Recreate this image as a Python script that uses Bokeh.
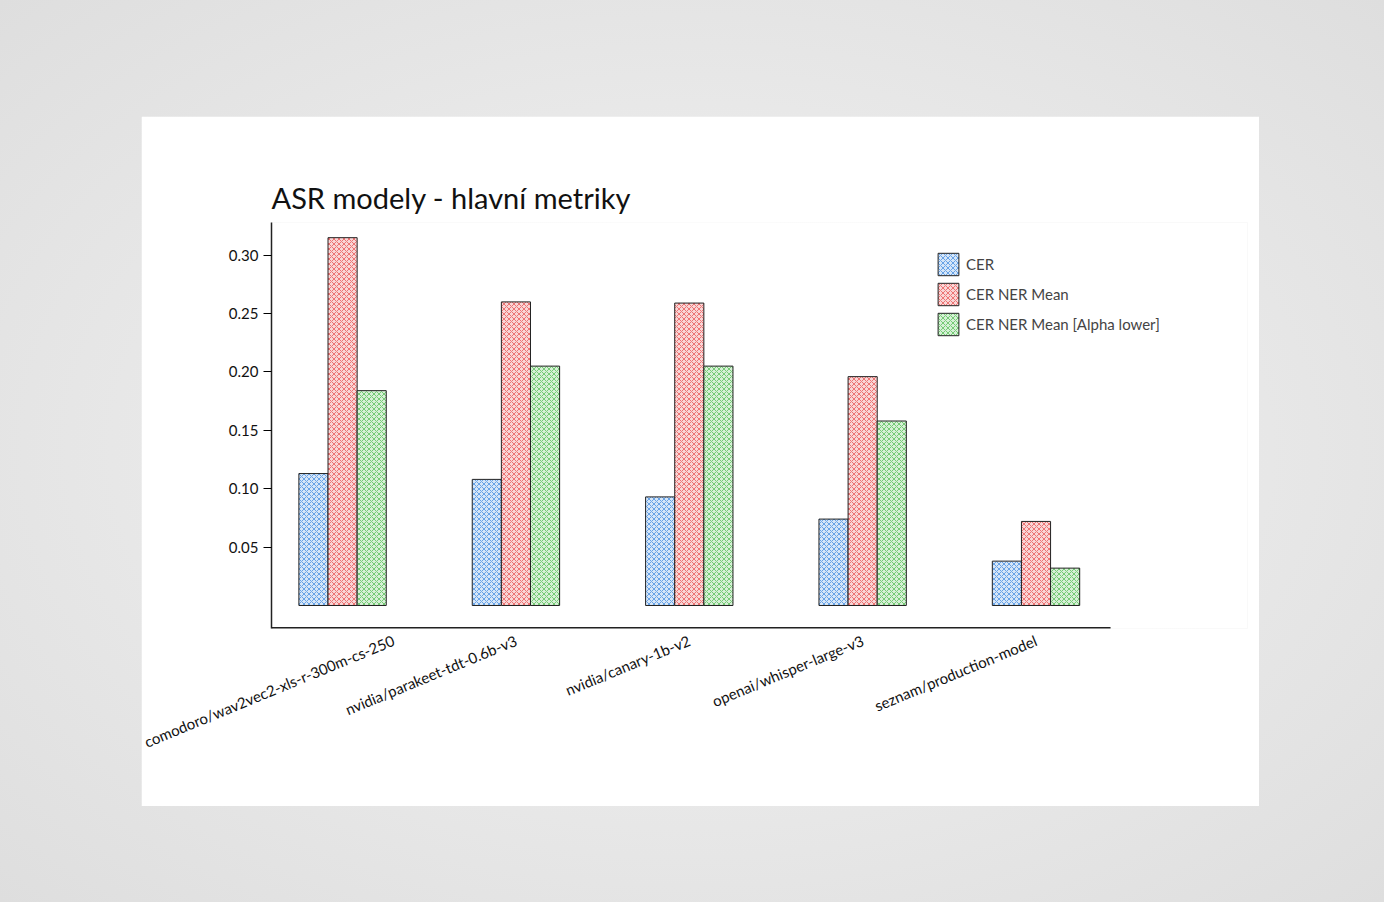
from bokeh.plotting import figure
from bokeh.models import ColumnDataSource, Legend, LegendItem, FixedTicker, Column
from bokeh.embed import file_html
from bokeh.resources import INLINE
import math

models = ["comodoro/wav2vec2-xls-r-300m-cs-250", "nvidia/parakeet-tdt-0.6b-v3",
          "nvidia/canary-1b-v2", "openai/whisper-large-v3", "seznam/production-model"]
cer = [0.113, 0.108, 0.093, 0.074, 0.038]
cer_ner = [0.315, 0.260, 0.259, 0.196, 0.072]
cer_ner_alpha = [0.184, 0.205, 0.205, 0.158, 0.032]
series_names = ["CER", "CER NER Mean", "CER NER Mean [Alpha lower]"]
colors = ["#4a90e2", "#e85a5a", "#5cc05c"]
fills = ["#d6e6f8", "#f9d6d6", "#d6f0d6"]

FONT = "Lato"
X0, X1 = -0.41, 4.43   # extent of the drawn x axis
Y0 = -0.0197

# frame is widened to the right so that the legend fits inside it
p = figure(width=1118, height=690, output_backend="svg", toolbar_location=None,
           x_range=(X0, 5.22), y_range=(Y0, 0.328),
           min_border_left=130, min_border_right=12, min_border_top=106,
           min_border_bottom=178, background_fill_color="white",
           border_fill_color="white", outline_line_color=None,
           margin=(116, 0, 0, 141))
p.title.text = "ASR modely - hlavní metriky"
p.title.text_font = FONT
p.title.text_font_size = "29px"
p.title.text_font_style = "normal"
p.title.text_color = "#111111"
p.title.offset = 0
p.title.standoff = 16

xs = list(range(len(models)))
renderers = []
for i, (vals, c, f) in enumerate(zip([cer, cer_ner, cer_ner_alpha], colors, fills)):
    src = ColumnDataSource(dict(x=[x + (i - 1) * 0.168 for x in xs], top=vals))
    r = p.vbar(x="x", top="top", bottom=0, width=0.168, source=src,
               fill_color=f, hatch_pattern="x", hatch_color=c, hatch_scale=5,
               hatch_weight=0.8, line_color="#222222", line_width=1)
    renderers.append(r)

# bottom axis line, only as long as the data area
p.segment(x0=[X0], y0=[Y0], x1=[X1], y1=[Y0], line_color="#222222", line_width=3)

legend = Legend(items=[LegendItem(label=n, renderers=[r]) for n, r in zip(series_names, renderers)],
                location=(664, 290), border_line_color=None, background_fill_alpha=0,
                label_text_font=FONT, label_text_font_size="15px", glyph_width=26,
                glyph_height=28, spacing=2)
p.add_layout(legend, "center")

p.xgrid.visible = False
p.ygrid.visible = False
p.yaxis.ticker = FixedTicker(ticks=[0.05, 0.10, 0.15, 0.20, 0.25, 0.30])
p.yaxis.major_label_overrides = {t: "%.2f" % t for t in [0.05, 0.10, 0.15, 0.20, 0.25, 0.30]}
p.yaxis.minor_tick_line_color = None
p.yaxis.major_tick_out = 8
p.yaxis.major_tick_in = 0
p.yaxis.axis_line_color = "#222222"
p.yaxis.axis_line_width = 1.5
p.xaxis.ticker = FixedTicker(ticks=xs)
p.xaxis.major_label_overrides = {x: m for x, m in zip(xs, models)}
p.xaxis.major_label_orientation = math.pi / 8
p.xaxis.major_tick_line_color = None
p.xaxis.minor_tick_line_color = None
p.xaxis.axis_line_color = None
for ax in (p.xaxis, p.yaxis):
    ax.major_label_text_font = FONT
    ax.major_label_text_font_size = "15px"
    ax.major_label_text_color = "#111111"

page = Column(p, width=1384, height=902,
              styles={"background": "radial-gradient(ellipse at center, #f4f4f4 0%, #dedede 100%)"})

open("out.html", "w").write(file_html(page, INLINE))
